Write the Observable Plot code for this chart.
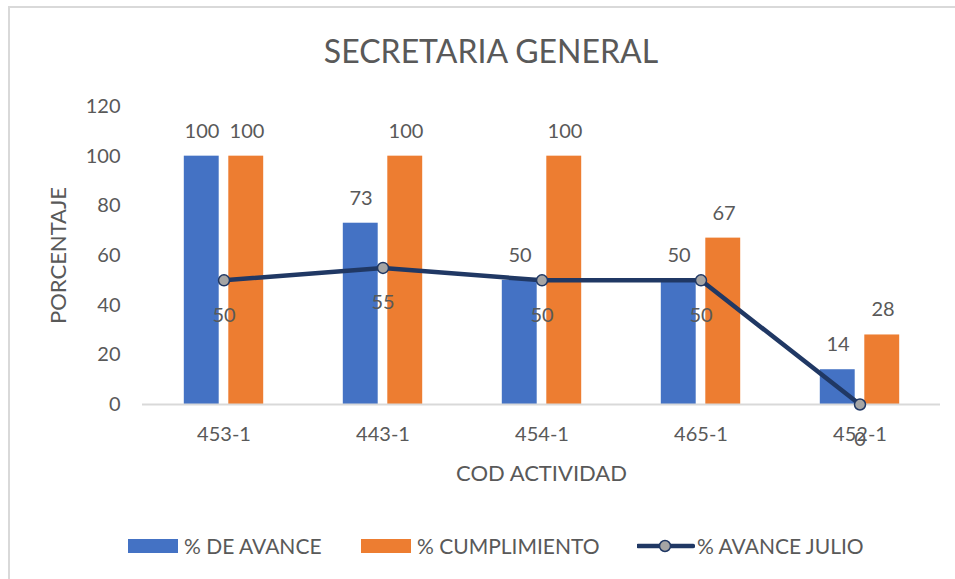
<!DOCTYPE html>
<html>
<head>
<meta charset="utf-8">
<script src="https://cdn.jsdelivr.net/npm/d3@7"></script>
<script src="https://cdn.jsdelivr.net/npm/@observablehq/plot@0.6"></script>
<style>
  html, body { margin: 0; padding: 0; background: #fff; overflow: hidden; }
  body { width: 955px; height: 579px; position: relative; font-family: Lato, "Open Sans", sans-serif; color: #595959; }
  #frame { position: absolute; left: 8px; top: 6px; width: 980px; height: 620px; border: 2px solid #d9d9d9; box-sizing: border-box; }
  #title { position: absolute; left: 0; top: 31px; width: 982px; text-align: center; font-size: 32px; color: #595959; }
  #chart { position: absolute; left: 0; top: 0; }
  .leg { position: absolute; top: 533px; font-size: 21px; color: #595959; display: flex; align-items: center; white-space: nowrap; }
  .sw { width: 50px; height: 14px; margin-right: 6px; }
</style>
</head>
<body>
<div id="frame"></div>
<div id="title"></div>
<div id="chart"></div>
<div id="legend"></div>
<script>
const titleText = "SECRETARIA GENERAL";
const categories = ["453-1", "443-1", "454-1", "465-1", "452-1"];
const avance = [100, 73, 50, 50, 14];
const cumplimiento = [100, 100, 100, 67, 28];
const avanceJulio = [50, 55, 50, 50, 0];
const seriesNames = ["% DE AVANCE", "% CUMPLIMIENTO", "% AVANCE JULIO"];
const colors = ["#4472C4", "#ED7D31", "#203864"];
const yTicks = [0, 20, 40, 60, 80, 100, 120];

const rows = categories.map((c, i) => ({cat: c, avance: avance[i], cumpl: cumplimiento[i], julio: avanceJulio[i]}));

document.getElementById("title").textContent = titleText;

const bw = (940 - 142) / categories.length;
const half = bw / 2;

const chart = Plot.plot({
  width: 955,
  height: 579,
  marginLeft: 142,
  marginRight: 15,
  marginTop: 106,
  marginBottom: 175,
  style: {fontFamily: "Lato, 'Open Sans', sans-serif", fontSize: "20px", color: "#595959", background: "transparent", overflow: "visible"},
  x: {type: "band", domain: categories, padding: 0},
  y: {domain: [0, 120]},
  marks: [
    Plot.axisY({ticks: yTicks, tickSize: 0, tickPadding: 22, label: null, fontSize: 20}),
    Plot.axisY({ticks: [], tickSize: 0, label: "PORCENTAJE", labelAnchor: "center", labelOffset: 92, labelArrow: "none", fontSize: 22}),
    Plot.axisX({tickSize: 0, tickPadding: 22, label: null, fontSize: 20}),
    Plot.axisX({ticks: [], tickSize: 0, label: "COD ACTIVIDAD", labelAnchor: "center", labelOffset: 76, labelArrow: "none", fontSize: 22}),
    Plot.barY(rows, {x: "cat", y: "avance", fill: colors[0], insetLeft: half - 40, insetRight: half + 4.5}),
    Plot.barY(rows, {x: "cat", y: "cumpl", fill: colors[1], insetLeft: half + 4.5, insetRight: half - 40}),
    Plot.ruleY([0], {stroke: "#d9d9d9", strokeWidth: 2}),
    Plot.line(rows, {x: "cat", y: "julio", stroke: colors[2], strokeWidth: 4.5, strokeLinejoin: "round"}),
    Plot.dot(rows, {x: "cat", y: "julio", r: 5.5, fill: "#a5a5a5", stroke: colors[2], strokeWidth: 1.5}),
    Plot.text(rows, {x: "cat", y: "avance", text: d => String(d.avance), dx: -22, dy: -25, fontSize: 20, fill: "#595959"}),
    Plot.text(rows, {x: "cat", y: "cumpl", text: d => String(d.cumpl), dx: 23, dy: -25, fontSize: 20, fill: "#595959"}),
    Plot.text(rows, {x: "cat", y: "julio", text: d => String(d.julio), dy: 35, fontSize: 20, fill: "#595959"})
  ]
});
document.getElementById("chart").appendChild(chart);

// Legend
const leg = document.getElementById("legend");
const legX = [128, 361, 637];
seriesNames.forEach((name, i) => {
  const item = document.createElement("div");
  item.className = "leg";
  item.style.left = legX[i] + "px";
  if (i < 2) {
    const sw = document.createElement("div");
    sw.className = "sw";
    sw.style.background = colors[i];
    item.appendChild(sw);
  } else {
    const svg = document.createElementNS("http://www.w3.org/2000/svg", "svg");
    svg.setAttribute("width", 58); svg.setAttribute("height", 20);
    svg.style.marginRight = "2px";
    svg.innerHTML = `<line x1="1" y1="10" x2="56" y2="10" stroke="${colors[2]}" stroke-width="4.5" stroke-linecap="round"/><circle cx="28" cy="10" r="5.5" fill="#a5a5a5" stroke="${colors[2]}" stroke-width="1.5"/>`;
    item.appendChild(svg);
  }
  const t = document.createElement("span");
  t.textContent = name;
  item.appendChild(t);
  leg.appendChild(item);
});
</script>
</body>
</html>
